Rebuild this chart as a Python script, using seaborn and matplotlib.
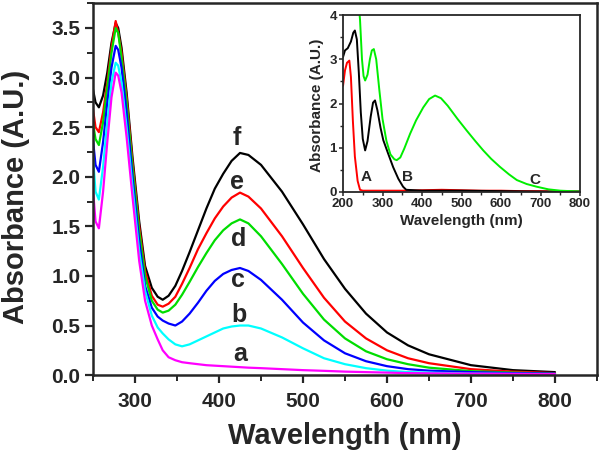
import numpy as np
import pandas as pd
import matplotlib
matplotlib.use("Agg")
import matplotlib.pyplot as plt
import seaborn as sns
from matplotlib.ticker import MultipleLocator

# ---------------- data ----------------
wl = [250, 253, 257, 262, 267, 272, 277, 280, 284, 290, 297, 305, 312, 320, 327, 333,
      340, 348, 356, 365, 375, 385, 395, 405, 415, 425, 435, 450, 475, 500, 525, 550,
      575, 600, 625, 650, 700, 750, 800]

abs_f = [2.88, 2.75, 2.70, 2.82, 3.05, 3.35, 3.55, 3.50, 3.30, 2.85, 2.20, 1.55, 1.10, 0.88, 0.79, 0.76,
         0.80, 0.90, 1.05, 1.24, 1.46, 1.68, 1.88, 2.03, 2.16, 2.24, 2.22, 2.12, 1.85, 1.52, 1.17, 0.87,
         0.62, 0.43, 0.30, 0.21, 0.10, 0.05, 0.03]
abs_e = [2.68, 2.50, 2.45, 2.65, 2.95, 3.30, 3.57, 3.45, 3.25, 2.80, 2.15, 1.50, 1.05, 0.80, 0.71, 0.69,
         0.72, 0.79, 0.92, 1.08, 1.27, 1.43, 1.58, 1.70, 1.79, 1.84, 1.80, 1.68, 1.40, 1.08, 0.78, 0.54,
         0.37, 0.25, 0.17, 0.12, 0.06, 0.035, 0.02]
abs_d = [2.54, 2.38, 2.32, 2.55, 2.90, 3.25, 3.50, 3.45, 3.20, 2.75, 2.10, 1.45, 1.00, 0.75, 0.66, 0.63,
         0.65, 0.71, 0.81, 0.94, 1.09, 1.23, 1.36, 1.46, 1.53, 1.57, 1.53, 1.40, 1.12, 0.82, 0.56, 0.37,
         0.24, 0.16, 0.11, 0.075, 0.04, 0.025, 0.015]
abs_c = [2.37, 2.12, 2.05, 2.35, 2.75, 3.10, 3.32, 3.28, 3.10, 2.65, 2.00, 1.35, 0.90, 0.68, 0.59, 0.55,
         0.52, 0.50, 0.54, 0.62, 0.73, 0.85, 0.95, 1.02, 1.06, 1.08, 1.05, 0.96, 0.76, 0.53, 0.35, 0.22,
         0.14, 0.09, 0.06, 0.045, 0.03, 0.02, 0.015]
abs_b = [2.20, 1.85, 1.77, 2.10, 2.55, 2.95, 3.15, 3.12, 2.95, 2.50, 1.90, 1.25, 0.85, 0.60, 0.48, 0.42,
         0.36, 0.31, 0.29, 0.31, 0.35, 0.39, 0.43, 0.47, 0.49, 0.50, 0.50, 0.47, 0.38, 0.27, 0.17, 0.11,
         0.07, 0.045, 0.03, 0.025, 0.015, 0.012, 0.01]
abs_a = [1.87, 1.55, 1.48, 1.85, 2.35, 2.80, 3.05, 3.02, 2.85, 2.40, 1.80, 1.15, 0.75, 0.50, 0.36, 0.25,
         0.18, 0.15, 0.13, 0.12, 0.11, 0.10, 0.095, 0.09, 0.085, 0.08, 0.075, 0.07, 0.06, 0.05, 0.043, 0.035,
         0.03, 0.025, 0.02, 0.018, 0.015, 0.012, 0.01]

series_names = ["f", "e", "d", "c", "b", "a"]
series_colors = ["#000000", "#ff0000", "#00dd00", "#0000ff", "#00ffff", "#ff00ff"]
label_wl = [421, 422, 424, 423, 424, 425]
label_abs = [2.39, 1.95, 1.37, 0.96, 0.61, 0.21]

# inset
wl_A = [200, 205, 210, 216, 220, 225, 230, 237, 243, 250, 300, 350, 400, 450, 500, 550, 600, 650, 700, 750, 800]
abs_A = [2.40, 2.75, 2.92, 2.97, 2.60, 1.60, 0.80, 0.25, 0.05, 0.03, 0.03, 0.03, 0.04, 0.05, 0.04, 0.03, 0.03, 0.02, 0.02, 0.01, 0.01]
wl_B = [200, 205, 212, 220, 226, 230, 235, 240, 245, 250, 256, 262, 270, 276, 281, 287, 295, 302, 315, 327, 340, 352, 360, 400, 500, 600, 700, 800]
abs_B = [3.05, 3.20, 3.25, 3.40, 3.60, 3.65, 3.45, 2.70, 1.80, 1.20, 0.94, 1.15, 1.70, 2.02, 2.07, 1.85, 1.45, 1.17, 0.85, 0.56, 0.30, 0.12, 0.05, 0.03, 0.03, 0.02, 0.01, 0.01]
wl_C = [238, 243, 248, 252, 256, 262, 268, 273, 278, 284, 292, 300, 310, 320, 330, 336, 345, 355, 370, 385, 403, 418, 433, 448, 465, 490, 513, 535, 555, 575, 597, 620, 640, 665, 690, 720, 750, 800]
abs_C = [4.40, 3.90, 3.00, 2.62, 2.52, 2.65, 3.00, 3.20, 3.23, 3.00, 2.30, 1.65, 1.15, 0.85, 0.74, 0.72, 0.78, 0.98, 1.32, 1.62, 1.91, 2.10, 2.18, 2.12, 1.95, 1.65, 1.39, 1.15, 0.94, 0.75, 0.57, 0.40, 0.27, 0.18, 0.12, 0.06, 0.03, 0.01]
inset_names = ["A", "B", "C"]
inset_colors = ["#ff0000", "#000000", "#00ee00"]
inset_label_wl = [258, 362, 686]
inset_label_abs = [0.33, 0.33, 0.28]

# ---------------- plotting ----------------
sns.set_style("ticks")
plt.rcParams["font.family"] = ["Liberation Sans", "DejaVu Sans"]
plt.rcParams["font.weight"] = "bold"

fig = plt.figure(figsize=(6.0, 4.58), dpi=100)
ax = fig.add_axes([0.155, 0.181, 0.840, 0.812])

series_vals = [abs_f, abs_e, abs_d, abs_c, abs_b, abs_a]
for name, vals, col in zip(series_names, series_vals, series_colors):
    df = pd.DataFrame({"wl": wl, "A": vals})
    sns.lineplot(data=df, x="wl", y="A", ax=ax, color=col, linewidth=1.6,
                 sort=False, estimator=None)
for name, lx, ly in zip(series_names, label_wl, label_abs):
    ax.text(lx, ly, name, fontsize=18, fontweight="bold", ha="center", va="center")

ax.set_xlim(250, 850)
ax.set_ylim(0, 3.75)
ax.xaxis.set_major_locator(MultipleLocator(100))
ax.xaxis.set_minor_locator(MultipleLocator(50))
ax.yaxis.set_major_locator(MultipleLocator(0.5))
ax.yaxis.set_minor_locator(MultipleLocator(0.25))
ax.set_xticks([300, 400, 500, 600, 700, 800])
ax.yaxis.set_major_formatter(matplotlib.ticker.FormatStrFormatter("%.1f"))
ax.tick_params(axis="both", which="major", direction="out", length=6, width=1.6,
               labelsize=15, pad=3)
ax.tick_params(axis="x", which="major", pad=6)
ax.tick_params(axis="both", which="minor", direction="out", length=4, width=1.4)
for lab in ax.get_xticklabels() + ax.get_yticklabels():
    lab.set_fontweight("bold")
for sp in ax.spines.values():
    sp.set_linewidth(1.8)
    sp.set_visible(True)
ax.set_xlabel("Wavelength (nm)", fontsize=21, fontweight="bold")
ax.set_ylabel("Absorbance (A.U.)", fontsize=21, fontweight="bold")
ax.xaxis.set_label_coords(0.5, -0.165)
ax.xaxis.label.set_verticalalignment("center")
ax.yaxis.set_label_coords(-0.152, 0.48)
ax.yaxis.label.set_verticalalignment("center")

# inset
ins = fig.add_axes([0.5717, 0.5808, 0.395, 0.3864])
for vx, vy, col in zip([wl_A, wl_B, wl_C], [abs_A, abs_B, abs_C], inset_colors):
    df = pd.DataFrame({"wl": vx, "A": vy})
    sns.lineplot(data=df, x="wl", y="A", ax=ins, color=col, linewidth=1.4,
                 sort=False, estimator=None)
for name, lx, ly in zip(inset_names, inset_label_wl, inset_label_abs):
    ins.text(lx, ly, name, fontsize=11, fontweight="bold", ha="center", va="center")
ins.set_xlim(200, 800)
ins.set_ylim(0, 4)
ins.xaxis.set_major_locator(MultipleLocator(100))
ins.xaxis.set_minor_locator(MultipleLocator(50))
ins.yaxis.set_major_locator(MultipleLocator(1))
ins.yaxis.set_minor_locator(MultipleLocator(0.5))
ins.tick_params(axis="both", which="major", direction="out", length=3, width=1.1,
                labelsize=9.5, pad=1.5)
ins.tick_params(axis="both", which="minor", direction="out", length=2, width=1.0)
for lab in ins.get_xticklabels() + ins.get_yticklabels():
    lab.set_fontweight("bold")
for sp in ins.spines.values():
    sp.set_linewidth(1.3)
ins.set_xlabel("Wavelength (nm)", fontsize=11, fontweight="bold")
ins.set_ylabel("Absorbance (A.U.)", fontsize=11, fontweight="bold")
ins.xaxis.set_label_coords(0.5, -0.165)
ins.xaxis.label.set_verticalalignment("center")
ins.yaxis.set_label_coords(-0.11, 0.49)
ins.yaxis.label.set_verticalalignment("center")

fig.savefig("out.png", dpi=100)
